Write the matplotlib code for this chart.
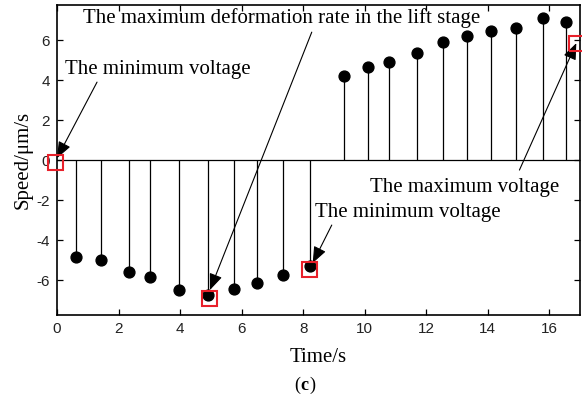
import matplotlib
matplotlib.use("Agg")
import matplotlib.pyplot as plt
from matplotlib.patches import Rectangle

plt.rcParams["axes.unicode_minus"] = False

# data
time_neg = [0.62, 1.43, 2.34, 3.03, 3.95, 4.92, 5.74, 6.50, 7.34, 8.23]
speed_neg = [-4.83, -5.02, -5.58, -5.83, -6.52, -6.75, -6.45, -6.15, -5.77, -5.30]
time_pos = [9.34, 10.12, 10.80, 11.70, 12.53, 13.31, 14.12, 14.91, 15.81, 16.53]
speed_pos = [4.23, 4.67, 4.92, 5.37, 5.92, 6.20, 6.45, 6.63, 7.12, 6.93]
xticks = [0, 2, 4, 6, 8, 10, 12, 14, 16]
yticks = [-6, -4, -2, 0, 2, 4, 6]

SERIF = "Liberation Serif"
SANS = "Liberation Sans"

fig = plt.figure(figsize=(5.82, 3.96), dpi=100)
ax = fig.add_axes([0.098, 0.2045, 0.8986, 0.7825])

t_all = time_neg + time_pos
s_all = speed_neg + speed_pos
ax.vlines(t_all, 0, s_all, color="black", lw=0.9)
ax.plot(t_all, s_all, "o", color="black", ms=7.8)
ax.axhline(0, color="black", lw=0.9)

ax.set_xlim(0, 17)
ax.set_ylim(-7.75, 7.75)
ax.set_xticks(xticks)
ax.set_yticks(yticks)
ax.tick_params(direction="in", top=True, right=True, length=4, width=0.9,
               labelsize=11, pad=5, labelcolor="#222222")
for lab in ax.get_xticklabels() + ax.get_yticklabels():
    lab.set_fontfamily(SANS)
for sp in ax.spines.values():
    sp.set_linewidth(1.2)

ax.set_xlabel("Time/s", fontfamily=SERIF, fontsize=15, labelpad=9)
ax.set_ylabel("Speed/μm/s", fontfamily=SERIF, fontsize=15, labelpad=3)
fig.text(0.516, 0.005, "(", fontfamily=SERIF, fontsize=13, ha="right", va="bottom")
fig.text(0.516, 0.005, "c", fontfamily=SERIF, fontsize=13, fontweight="bold", ha="left", va="bottom")
fig.text(0.532, 0.005, ")", fontfamily=SERIF, fontsize=13, ha="left", va="bottom")

# red squares
sq_w, sq_h = 0.5, 0.75
for (cx, cy) in [(-0.05, -0.1), (4.95, -6.92), (8.21, -5.47), (16.9, 5.85)]:
    r = Rectangle((cx - sq_w / 2, cy - sq_h / 2), sq_w, sq_h, fill=False,
                  edgecolor="#e8202a", lw=1.5, clip_on=False, zorder=5)
    ax.add_patch(r)

arrow = dict(arrowstyle="-|>,head_length=1.0,head_width=0.4", color="black",
             lw=0.8, shrinkA=0, shrinkB=0)
fs = 15
ax.text(0.26, 4.55, "The minimum voltage", fontfamily=SERIF, fontsize=fs, va="center")
ax.annotate("", xy=(0.0, 0.1), xytext=(1.3, 3.9), arrowprops=arrow)

ax.text(0.85, 7.1, "The maximum deformation rate in the lift stage",
        fontfamily=SERIF, fontsize=fs, va="center")
ax.annotate("", xy=(4.97, -6.5), xytext=(8.28, 6.4), arrowprops=arrow)

ax.text(10.16, -1.35, "The maximum voltage", fontfamily=SERIF, fontsize=fs, va="center")
ax.annotate("", xy=(16.88, 5.85), xytext=(15.03, -0.5), arrowprops=arrow)

ax.text(8.38, -2.6, "The minimum voltage", fontfamily=SERIF, fontsize=fs, va="center")
ax.annotate("", xy=(8.31, -5.15), xytext=(8.93, -3.25), arrowprops=arrow)

fig.savefig("out.png", dpi=100)
